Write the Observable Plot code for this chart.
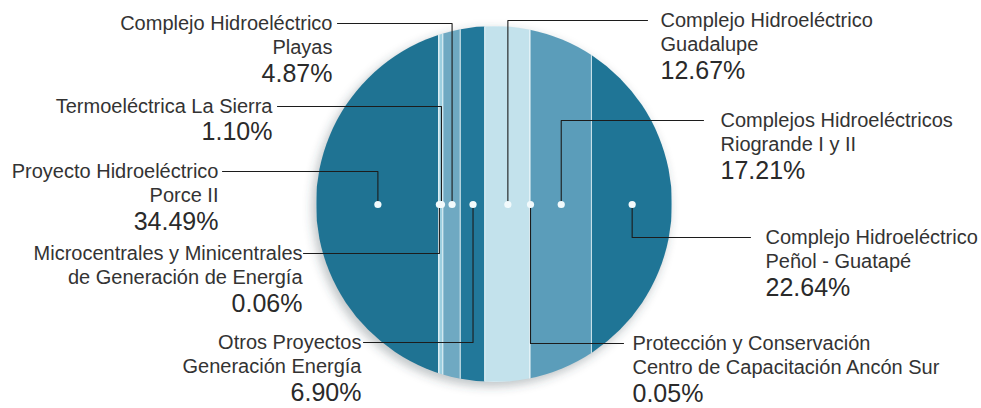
<!DOCTYPE html>
<html>
<head>
<meta charset="utf-8">
<script src="https://cdn.jsdelivr.net/npm/d3@7"></script>
<script src="https://cdn.jsdelivr.net/npm/@observablehq/plot@0.6"></script>
<style>
  html, body { margin: 0; padding: 0; background: #ffffff; }
  #chart svg { display: block; }
</style>
</head>
<body>
<div id="chart"></div>
<script>
// ---- data (left-to-right order of the strips) ----
const categories = ["porce", "micro", "termo", "playas", "otros", "guadalupe", "proteccion", "riogrande", "penol"];
const names = [
  "Proyecto Hidroeléctrico\nPorce II",
  "Microcentrales y Minicentrales\nde Generación de Energía",
  "Termoeléctrica La Sierra",
  "Complejo Hidroeléctrico\nPlayas",
  "Otros Proyectos\nGeneración Energía",
  "Complejo Hidroeléctrico\nGuadalupe",
  "Protección y Conservación\nCentro de Capacitación Ancón Sur",
  "Complejos Hidroeléctricos\nRiogrande I y II",
  "Complejo Hidroeléctrico\nPeñol - Guatapé"
];
const shares = [34.49, 0.06, 1.10, 4.87, 6.90, 12.67, 0.05, 17.21, 22.64];
const pctLabels = ["34.49%", "0.06%", "1.10%", "4.87%", "6.90%", "12.67%", "0.05%", "17.21%", "22.64%"];

// ---- styles ----
const stripColors = ["#1f7393", "#d3ebf2", "#9ccfe0", "#6fa9c2", "#22789a", "#c3e2ec", "#eef8fb", "#5b9dba", "#1f7596"];

// ---- label layout (chart units: circle spans x 0..100, y -50..50) ----
const layoutSide  = ["left", "left", "left", "left", "left", "right", "right", "right", "right"];
const layoutLineY = [9.27, -13.76, 27.53, 50.84, -38.76, 51.69, -39.04, 23.60, -9.27];
const layoutTextX = [-27.53, -3.93, -12.36, 4.49, 12.64, 96.63, 88.76, 113.48, 126.12];
const layoutLineX = [-26.4, -3.65, -10.95, 5.9, 13.2, 92.98, 86.24, 108.71, 121.91];
const LINE = 6.88;     // name line spacing
const PCT_GAP = 7.2;   // gap from last name line to percentage

// ---- derived tables ----
const ends = Array.from(d3.cumsum(shares));
const strips = categories.map((c, i) => ({
  cat: c, x1: ends[i] - shares[i], x2: ends[i], mid: ends[i] - shares[i] / 2
}));

const connectors = [];
strips.forEach((s, i) => {
  connectors.push({cat: s.cat, x: s.mid, y: 0});
  connectors.push({cat: s.cat, x: s.mid, y: layoutLineY[i]});
  connectors.push({cat: s.cat, x: layoutLineX[i], y: layoutLineY[i]});
});

const nameRows = [];
const pctRows = [];
categories.forEach((c, i) => {
  const lines = names[i].split("\n");
  lines.forEach((t, j) => nameRows.push({side: layoutSide[i], x: layoutTextX[i], y: layoutLineY[i] - j * LINE, text: t}));
  pctRows.push({side: layoutSide[i], x: layoutTextX[i], y: layoutLineY[i] - (lines.length - 1) * LINE - PCT_GAP, text: pctLabels[i]});
});
const isL = d => d.side === "left";
const isR = d => d.side === "right";

const plot = Plot.plot({
  width: 981,
  height: 408,
  marginLeft: 316,
  marginRight: 309,
  marginTop: 26,
  marginBottom: 26,
  style: {fontFamily: "'Liberation Sans', Arial, sans-serif", background: "#ffffff", overflow: "visible"},
  x: {domain: [0, 100], axis: null},
  y: {domain: [-50, 50], axis: null},
  color: {domain: categories, range: stripColors},
  marks: [
    Plot.rect(strips, {x1: "x1", x2: "x2", y1: -50, y2: 50, fill: "cat", stroke: "#e8f4f8", strokeWidth: 0.8}),
    Plot.line(connectors, {x: "x", y: "y", z: "cat", stroke: "#1c1c1c", strokeWidth: 1.1}),
    Plot.dot(strips, {x: "mid", y: 0, r: 3.6, fill: "#f2fafc"}),
    Plot.text(nameRows.filter(isL), {x: "x", y: "y", text: "text", textAnchor: "end", fontSize: 20, fill: "#333333"}),
    Plot.text(nameRows.filter(isR), {x: "x", y: "y", text: "text", textAnchor: "start", fontSize: 20, fill: "#333333"}),
    Plot.text(pctRows.filter(isL), {x: "x", y: "y", text: "text", textAnchor: "end", fontSize: 25, fill: "#2a2a2a"}),
    Plot.text(pctRows.filter(isR), {x: "x", y: "y", text: "text", textAnchor: "start", fontSize: 25, fill: "#2a2a2a"})
  ]
});

// clip strips to the circle and add a soft shadow, using the plot's own scales
const sx = plot.scale("x"), sy = plot.scale("y");
const cx = sx.apply(50), cy = sy.apply(0), R = sx.apply(100) - sx.apply(50);
const svg = d3.select(plot);
const defs = svg.insert("defs", ":first-child");
defs.append("clipPath").attr("id", "circ-clip")
  .append("circle").attr("cx", cx).attr("cy", cy).attr("r", R);
const f = defs.append("filter").attr("id", "soft").attr("x", "-20%").attr("y", "-20%").attr("width", "140%").attr("height", "140%");
f.append("feGaussianBlur").attr("stdDeviation", 5);
const rectG = plot.querySelector('g[aria-label="rect"]');
rectG.setAttribute("clip-path", "url(#circ-clip)");
svg.insert("circle", 'g[aria-label="rect"]')
  .attr("cx", cx - 3).attr("cy", cy + 4).attr("r", R + 1)
  .attr("fill", "rgba(60,70,80,0.30)").attr("filter", "url(#soft)");

document.getElementById("chart").appendChild(plot);
</script>
</body>
</html>
